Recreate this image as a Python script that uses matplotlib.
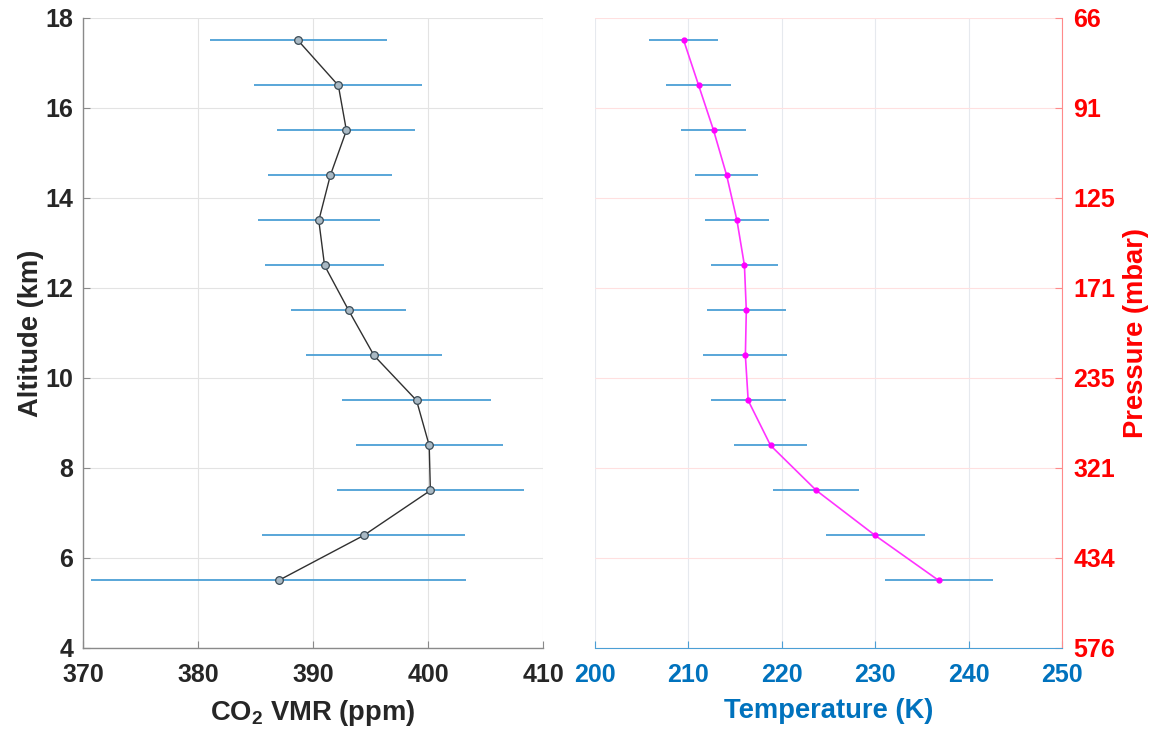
import matplotlib
matplotlib.use("Agg")
import matplotlib.pyplot as plt

plt.rcParams['font.family'] = ['Liberation Sans', 'DejaVu Sans']
plt.rcParams['mathtext.fontset'] = 'custom'
plt.rcParams['mathtext.rm'] = 'Liberation Sans'
plt.rcParams['mathtext.bf'] = 'Liberation Sans:bold'

# Retrieved profiles
altitude = [17.5, 16.5, 15.5, 14.5, 13.5, 12.5, 11.5, 10.5, 9.5, 8.5, 7.5, 6.5, 5.5]
co2_vmr = [388.7, 392.2, 392.9, 391.5, 390.5, 391.0, 393.1, 395.3, 399.0, 400.1, 400.2, 394.4, 387.0]
co2_err = [7.7, 7.3, 6.0, 5.4, 5.3, 5.2, 5.0, 5.9, 6.5, 6.4, 8.1, 8.8, 16.3]
temperature = [209.5, 211.1, 212.7, 214.1, 215.2, 216.0, 216.2, 216.1, 216.4, 218.8, 223.7, 230.0, 236.8]
temp_err = [3.7, 3.5, 3.5, 3.4, 3.4, 3.6, 4.2, 4.5, 4.0, 3.9, 4.6, 5.3, 5.8]

alt_ticks = [4, 6, 8, 10, 12, 14, 16, 18]
pressure_labels = ['576', '434', '321', '235', '171', '125', '91', '66']
co2_ticks = [370, 380, 390, 400, 410]
temp_ticks = [200, 210, 220, 230, 240, 250]

ERR_BLUE = '#4b9fd5'
AX_BLUE = '#0072BD'
DARK = '#262626'
RED = '#FF0000'
PINK_SPINE = '#ff8a8a'
FS_TICK = 18
FS_LABEL = 19.7

fig = plt.figure(figsize=(11.56, 7.34), dpi=100)
ax1 = fig.add_axes([0.0718, 0.1172, 0.398, 0.8583])
ax2 = fig.add_axes([0.5147, 0.1172, 0.404, 0.8583])

# CO2 panel
ax1.errorbar(co2_vmr, altitude, xerr=co2_err, fmt='none', ecolor=ERR_BLUE,
             elinewidth=1.3, capsize=0, zorder=2)
ax1.plot(co2_vmr, altitude, '-', color='#303030', lw=1.0, zorder=3)
ax1.plot(co2_vmr, altitude, 'o', ms=5.5, mfc='#a9b9c4', mec='#3a4a55', mew=0.9, zorder=4)
ax1.set_xlim(370, 410)
ax1.set_ylim(4, 18)
ax1.set_xticks(co2_ticks)
ax1.set_yticks(alt_ticks)
ax1.grid(True, color='#e3e3e3', lw=0.8)
ax1.set_axisbelow(True)
for s in ('top', 'right'):
    ax1.spines[s].set_visible(False)
for s in ('left', 'bottom'):
    ax1.spines[s].set_color('#8a8a8a')
    ax1.spines[s].set_linewidth(1.0)
ax1.tick_params(direction='in', length=5, color='#8a8a8a', labelsize=FS_TICK,
                labelcolor=DARK)
ax1.tick_params(axis='x', pad=11)
ax1.tick_params(axis='y', pad=7)
for lab in ax1.get_xticklabels() + ax1.get_yticklabels():
    lab.set_fontweight('bold')
ax1.set_xlabel(r'CO$_\mathbf{2}$ VMR (ppm)', fontsize=FS_LABEL, fontweight='bold',
               color=DARK, labelpad=8)
ax1.set_ylabel('Altitude (km)', fontsize=FS_LABEL, fontweight='bold', color=DARK,
               labelpad=1)

# Temperature panel
ax2.errorbar(temperature, altitude, xerr=temp_err, fmt='none', ecolor=ERR_BLUE,
             elinewidth=1.3, capsize=0, zorder=2)
ax2.plot(temperature, altitude, '-', color='#ff33ff', lw=1.2, zorder=3)
ax2.plot(temperature, altitude, 'o', ms=3.5, mfc='#ff00ff', mec='#ff00ff', zorder=4)
ax2.set_xlim(200, 250)
ax2.set_ylim(4, 18)
ax2.set_xticks(temp_ticks)
ax2.set_yticks(alt_ticks)
ax2.set_yticklabels(pressure_labels)
ax2.yaxis.tick_right()
ax2.yaxis.set_label_position('right')
ax2.xaxis.grid(True, color='#e6e9ee', lw=0.8)
ax2.yaxis.grid(True, color='#ffe0e0', lw=0.8)
ax2.set_axisbelow(True)
for s in ('top', 'left'):
    ax2.spines[s].set_visible(False)
ax2.spines['bottom'].set_color(ERR_BLUE)
ax2.spines['right'].set_color(PINK_SPINE)
ax2.tick_params(axis='x', direction='in', length=5, color=ERR_BLUE,
                labelsize=FS_TICK, labelcolor=AX_BLUE, pad=11)
ax2.tick_params(axis='y', direction='in', length=5, color=PINK_SPINE,
                labelsize=FS_TICK, labelcolor=RED, pad=8)
for lab in ax2.get_xticklabels() + ax2.get_yticklabels():
    lab.set_fontweight('bold')
ax2.set_xlabel('Temperature (K)', fontsize=FS_LABEL, fontweight='bold',
               color=AX_BLUE, labelpad=8)
ax2.set_ylabel('Pressure (mbar)', fontsize=FS_LABEL, fontweight='bold', color=RED,
               labelpad=6)

fig.savefig('out.png', dpi=100)
